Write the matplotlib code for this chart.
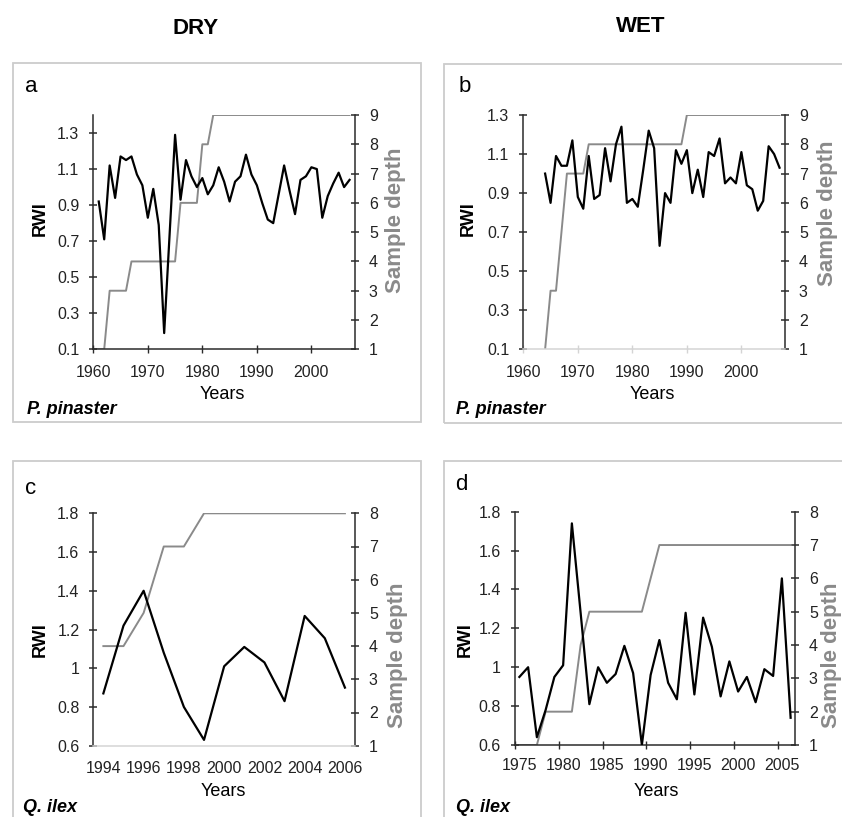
import numpy as np
import matplotlib.pyplot as plt
from matplotlib.patches import Rectangle

plt.rcParams['font.family'] = ['Liberation Sans', 'DejaVu Sans']

W, H = 842, 817

# ---- data ----
# a: DRY, P. pinaster
years_a = list(range(1961, 2008))
rwi_a = [0.92, 0.71, 1.12, 0.94, 1.17, 1.15, 1.17, 1.07, 1.01, 0.83,
         0.99, 0.79, 0.19, 0.74, 1.29, 0.93, 1.15, 1.06, 1.00, 1.05,
         0.96, 1.01, 1.11, 1.03, 0.92, 1.03, 1.06, 1.18, 1.07, 1.01,
         0.91, 0.82, 0.80, 0.96, 1.12, 0.98, 0.85, 1.04, 1.06, 1.11,
         1.10, 0.83, 0.95, 1.02, 1.08, 1.00, 1.04]
depth_years_a = list(range(1960, 2008))
depth_a = [1, 1, 1, 3, 3, 3, 3, 4, 4, 4, 4, 4, 4, 4, 4, 4, 6, 6, 6, 6,
           8, 8, 9, 9, 9, 9, 9, 9, 9, 9, 9, 9, 9, 9, 9, 9, 9, 9, 9, 9,
           9, 9, 9, 9, 9, 9, 9, 9]

# b: WET, P. pinaster
years_b = list(range(1964, 2008))
rwi_b = [1.00, 0.85, 1.09, 1.04, 1.04, 1.17, 0.88, 0.82, 1.09, 0.87,
         0.89, 1.13, 0.96, 1.15, 1.24, 0.85, 0.87, 0.83, 1.02, 1.22,
         1.13, 0.63, 0.90, 0.85, 1.12, 1.05, 1.12, 0.90, 1.02, 0.88,
         1.11, 1.09, 1.18, 0.95, 0.98, 0.95, 1.11, 0.94, 0.92, 0.81,
         0.86, 1.14, 1.10, 1.03]
depth_b = [1, 3, 3, 5, 7, 7, 7, 7, 8, 8, 8, 8, 8, 8, 8, 8, 8, 8, 8, 8,
           8, 8, 8, 8, 8, 8, 9, 9, 9, 9, 9, 9, 9, 9, 9, 9, 9, 9, 9, 9,
           9, 9, 9, 9]

# c: DRY, Q. ilex
years_c = list(range(1994, 2007))
rwi_c = [0.87, 1.22, 1.40, 1.08, 0.80, 0.63, 1.01, 1.11, 1.03, 0.83, 1.27, 1.155, 0.90]
depth_c = [4, 4, 5, 7, 7, 8, 8, 8, 8, 8, 8, 8, 8]

# d: WET, Q. ilex
years_d = list(range(1975, 2007))
rwi_d = [0.95, 1.00, 0.64, 0.78, 0.95, 1.01, 1.74, 1.28, 0.81, 1.00,
         0.92, 0.965, 1.11, 0.97, 0.60, 0.96, 1.14, 0.92, 0.835, 1.28,
         0.86, 1.255, 1.105, 0.85, 1.03, 0.875, 0.95, 0.82, 0.99, 0.955,
         1.457, 0.74]
depth_d = [1, 1, 1, 2, 2, 2, 2, 4, 5, 5, 5, 5, 5, 5, 5, 6, 7, 7, 7, 7,
           7, 7, 7, 7, 7, 7, 7, 7, 7, 7, 7, 7]

rwi_ticks_pp = [0.1, 0.3, 0.5, 0.7, 0.9, 1.1, 1.3]
rwi_ticks_qi = [0.6, 0.8, 1.0, 1.2, 1.4, 1.6, 1.8]
depth_ticks_pp = [1, 2, 3, 4, 5, 6, 7, 8, 9]
depth_ticks_qi = [1, 2, 3, 4, 5, 6, 7, 8]

DARK = '#2b2b2b'
GRAY = '#8a8a8a'
LIGHT = '#d4d4d4'
TICK_FS = 11.5


def fx(px):
    return px / W


def fy(py):
    return 1 - py / H


def ax_rect(x0, y0, x1, y1):
    return [fx(x0), fy(y1), fx(x1) - fx(x0), fy(y0) - fy(y1)]


def panel(rect, yrs, rwi, dyrs, depth, xlim, ylim, yticks, ylabfmt, dlim, dticks,
          xticks, xlabels, xtick_len, xminor=None, bottom_col=DARK, xpad=6):
    ax = fig.add_axes(rect)
    ax.plot(yrs, rwi, color='black', lw=1.6, zorder=3)
    ax.set_xlim(*xlim)
    ax.set_ylim(*ylim)
    ax.set_yticks(yticks)
    ax.set_yticklabels([ylabfmt(v) for v in yticks])
    ax.set_xticks(xticks)
    ax.set_xticklabels(xlabels)
    ax.spines['top'].set_visible(False)
    ax.spines['right'].set_visible(False)
    ax.spines['left'].set_color(DARK)
    ax.spines['bottom'].set_color(bottom_col)
    for s in ['left', 'bottom']:
        ax.spines[s].set_linewidth(1.1)
    ax.tick_params(axis='y', direction='inout', length=6, width=1.1, color=DARK,
                   labelsize=TICK_FS, labelcolor='#222222', pad=7)
    ax.tick_params(axis='x', direction='inout', length=xtick_len, width=1.0,
                   color=bottom_col, labelsize=TICK_FS, labelcolor='#222222', pad=xpad)
    if xminor is not None:
        ax.set_xticks(xminor, minor=True)
        ax.tick_params(axis='x', which='minor', direction='inout', length=6,
                       width=1.0, color=bottom_col)
    ax.patch.set_alpha(0)

    ax2 = ax.twinx()
    ax2.plot(dyrs, depth, color=GRAY, lw=1.4, zorder=2)
    ax2.set_ylim(*dlim)
    ax2.set_yticks(dticks)
    for s in ['top', 'left', 'bottom']:
        ax2.spines[s].set_visible(False)
    ax2.spines['right'].set_color(DARK)
    ax2.spines['right'].set_linewidth(1.1)
    ax2.tick_params(axis='y', direction='inout', length=6, width=1.1, color=DARK,
                    labelsize=TICK_FS, labelcolor='#222222', pad=7)
    ax.set_zorder(ax2.get_zorder() + 1)
    return ax, ax2


fig = plt.figure(figsize=(W / 100, H / 100), dpi=100)

# panel frames
for x0, y0, x1, y1 in [(13, 63, 421, 422), (444, 64, 860, 423),
                       (13, 461, 421, 840), (444, 461, 860, 840)]:
    fig.patches.append(Rectangle((fx(x0), fy(y1)), fx(x1) - fx(x0), fy(y0) - fy(y1),
                                 transform=fig.transFigure, fill=False,
                                 ec='#cccccc', lw=1.3))

fmt1 = lambda v: f'{v:.1f}'
fmtg = lambda v: f'{v:g}'
dec_ticks = [1960, 1970, 1980, 1990, 2000]
dec_labels = [str(t) for t in dec_ticks]

panel(ax_rect(93.3, 115, 355, 349.3), years_a, rwi_a, depth_years_a, depth_a,
      (1960, 2008), (0.1, 1.4), rwi_ticks_pp, fmt1, (1, 9), depth_ticks_pp,
      dec_ticks, dec_labels, 6, bottom_col=DARK, xpad=8)
panel(ax_rect(523.3, 115, 785, 349.3), years_b, rwi_b, years_b, depth_b,
      (1960, 2008), (0.1, 1.3), rwi_ticks_pp, fmt1, (1, 9), depth_ticks_pp,
      dec_ticks, dec_labels, 6, bottom_col=LIGHT, xpad=8)

c_ticks = [1994, 1996, 1998, 2000, 2002, 2004, 2006]
panel(ax_rect(93.3, 513.3, 355, 745.7), years_c, rwi_c, years_c, depth_c,
      (1993.5, 2006.5), (0.6, 1.8), rwi_ticks_qi, fmtg, (1, 8), depth_ticks_qi,
      c_ticks, [str(t) for t in c_ticks], 0, bottom_col=LIGHT, xpad=11)

d_ticks = [1975, 1980, 1985, 1990, 1995, 2000, 2005]
d_minor = [1974.5, 1979.5, 1984.5, 1989.5, 1994.5, 1999.5, 2004.5]
panel(ax_rect(515, 511.7, 795, 745), years_d, rwi_d, years_d, depth_d,
      (1974.5, 2006.5), (0.6, 1.8), rwi_ticks_qi, fmtg, (1, 8), depth_ticks_qi,
      d_ticks, [str(t) for t in d_ticks], 0, xminor=d_minor, bottom_col=DARK, xpad=9)

# titles and labels
fig.text(fx(196), fy(28), 'DRY', ha='center', va='center', fontsize=16, fontweight='bold')
fig.text(fx(641), fy(26), 'WET', ha='center', va='center', fontsize=16, fontweight='bold')

for letter, x, y in [('a', 25, 86), ('b', 459, 86), ('c', 25, 489), ('d', 455, 484)]:
    fig.text(fx(x), fy(y), letter, ha='left', va='center', fontsize=16)

for x, y, name in [(27, 410, 'P. pinaster'), (456, 410, 'P. pinaster'),
                   (23, 807, 'Q. ilex'), (456, 807, 'Q. ilex')]:
    fig.text(fx(x), fy(y), name, ha='left', va='center', fontsize=13,
             fontweight='bold', fontstyle='italic')

for x, y in [(222, 395), (652, 395), (223, 791), (656, 791)]:
    fig.text(fx(x), fy(y), 'Years', ha='center', va='center', fontsize=13)

for x, y in [(40, 219), (468, 219), (40, 640), (465, 640)]:
    fig.text(fx(x), fy(y), 'RWI', ha='center', va='center', rotation=90,
             fontsize=13, fontweight='bold')

for x, y in [(396, 220), (827, 213), (398, 655), (831, 655)]:
    fig.text(fx(x), fy(y), 'Sample depth', ha='center', va='center', rotation=90,
             fontsize=16, fontweight='bold', color=GRAY)

fig.savefig('out.png', dpi=100)
